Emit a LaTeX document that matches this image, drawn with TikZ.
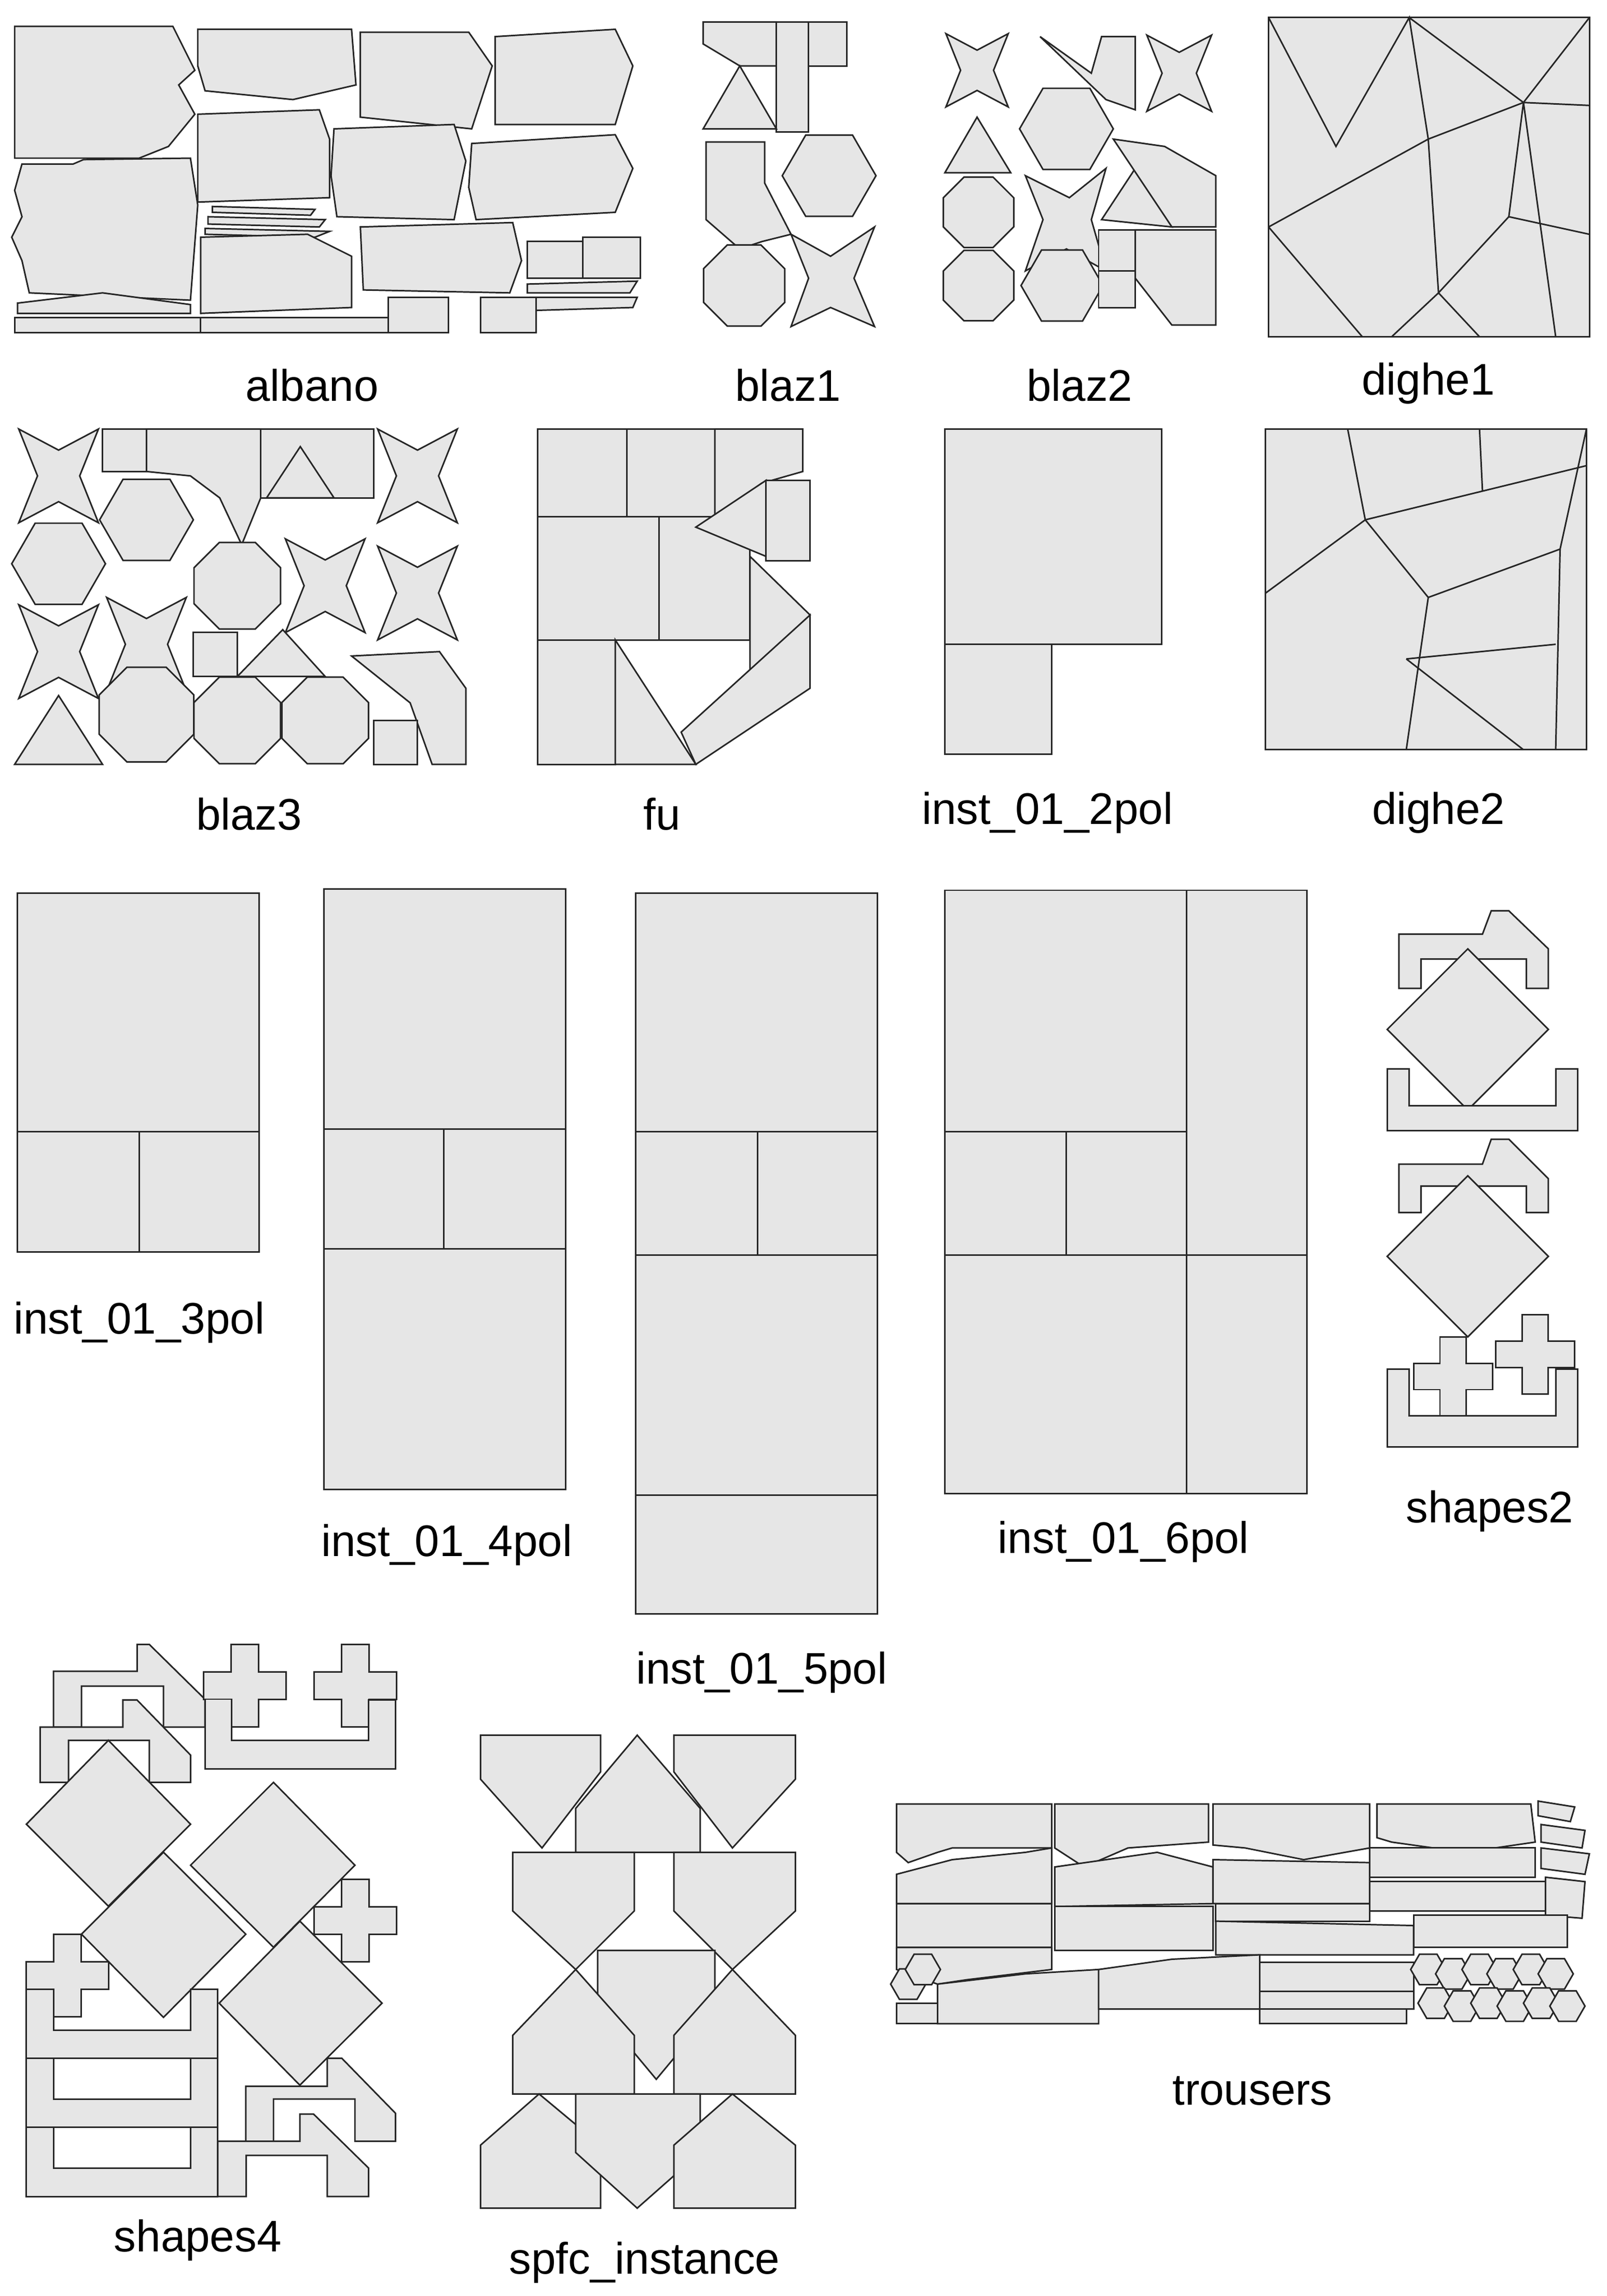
\documentclass[tikz,border=0pt]{standalone}
\usepackage{fontspec}
\setmainfont{Liberation Sans}
\usetikzlibrary{shapes.geometric}
\definecolor{pfill}{HTML}{E6E6E6}
\tikzset{pc/.style={fill=pfill,draw=black!85,line width=3pt,line join=miter},
ln/.style={draw=black!85,line width=3pt},
lab/.style={font=\fontsize{86}{90}\selectfont,inner sep=0pt}}
\newcommand\rpoly[5]{\node[pc,regular polygon,regular polygon sides=#1,minimum size=#4cm,inner sep=0pt] (#5) at (#2,#3) {};}
\newcommand\xstar[3]{\draw[pc,shift={(#1,#2)},scale=#3] (-0.85,-1)--(0,-0.55)--(0.85,-1)--(0.45,0)--(0.85,1)--(0,0.55)--(-0.85,1)--(-0.45,0)--cycle;}
\newcommand\xcross[3]{\draw[pc,shift={(#1,#2)},scale=#3] (-1,-3)--(1,-3)--(1,-1)--(3,-1)--(3,1)--(1,1)--(1,3)--(-1,3)--(-1,1)--(-3,1)--(-3,-1)--(-1,-1)--cycle;}
\newcommand\xdiam[3]{\draw[pc] (#1-#3,#2)--(#1,#2-#3)--(#1+#3,#2)--(#1,#2+#3)--cycle;}
\newcommand\xrect[4]{\draw[pc] (#1,#2) rectangle (#3,#4);}
\begin{document}
\begin{tikzpicture}[x=0.1cm,y=-0.1cm]
\useasboundingbox (0,0) rectangle (1097,1568);
% ---------- albano
\draw[pc] (10,18)--(118,18)--(133,48)--(122,58)--(133,78)--(115,100)--(95,108)--(10,108)--cycle;
\draw[pc] (135,20)--(240,20)--(243,58)--(200,68)--(140,62)--(135,45)--cycle;
\draw[pc] (246,22)--(320,22)--(336,45)--(322,88)--(246,80)--cycle;
\draw[pc] (338,25)--(420,20)--(432,45)--(420,85)--(338,85)--cycle;
\draw[pc] (57,109)--(130,108)--(135,140)--(130,205)--(20,200)--(15,178)--(8,162)--(15,148)--(10,130)--(15,112)--(50,112)--cycle;
\draw[pc] (135,78)--(218,75)--(225,95)--(225,135)--(135,138)--cycle;
\draw[pc] (228,88)--(310,85)--(318,110)--(310,150)--(230,148)--(226,120)--cycle;
\draw[pc] (322,98)--(420,92)--(432,115)--(420,145)--(325,150)--(320,128)--cycle;
\draw[pc] (145,141)--(215,143)--(212,147)--(145,145)--cycle;
\draw[pc] (142,148)--(222,150)--(218,155)--(142,153)--cycle;
\draw[pc] (140,156)--(225,158)--(215,162)--(140,160)--cycle;
\draw[pc] (137,162)--(210,160)--(240,175)--(240,210)--(137,214)--cycle;
\draw[pc] (246,155)--(350,152)--(356,178)--(348,200)--(248,198)--cycle;
\xrect{360}{165}{398}{190}\xrect{398}{162}{437}{190}
\draw[pc] (360,194)--(435,192)--(430,200)--(360,200)--cycle;
\draw[pc] (362,203)--(435,203)--(432,210)--(365,212)--cycle;
\draw[pc] (12,207)--(70,200)--(130,208)--(130,214)--(12,214)--cycle;
\xrect{10}{217}{137}{227}\xrect{137}{217}{265}{227}
\xrect{265}{203}{306}{227}\xrect{328}{203}{366}{227}
\node[lab] (l1) at (213,263) {albano};
% ---------- blaz1
\draw[pc] (480,15)--(530,15)--(530,45)--(505,45)--(480,30)--cycle;
\draw[pc] (530,15)--(552,15)--(552,90)--(530,90)--cycle;
\xrect{552}{15}{578}{45}
\draw[pc] (480,88)--(505,45)--(530,88)--cycle;
\rpoly{6}{566}{120}{6.4}{b1h}
\draw[pc] (482,97)--(522,97)--(522,125)--(540,160)--(520,165)--(505,170)--(482,150)--cycle;
\rpoly{8}{508}{195}{6}{b1o}
\draw[pc] (540,160)--(567,175)--(597,155)--(583,190)--(597,223)--(567,210)--(540,223)--(552,190)--cycle;
\node[lab] (l2) at (538,263) {blaz1};
% ---------- blaz2
\xstar{667}{48}{25}
\draw[pc] (645,118)--(667,80)--(690,118)--cycle;
\rpoly{8}{668}{145}{5.2}{b2o1}
\rpoly{8}{668}{195}{5.2}{b2o2}
\draw[pc] (710,25)--(745,50)--(752,25)--(775,25)--(775,75)--(755,68)--cycle;
\xstar{805}{50}{26}
\rpoly{6}{728}{88}{6.4}{b2h1}
\draw[pc] (700,120)--(730,135)--(755,115)--(745,150)--(755,185)--(728,170)--(700,185)--(712,150)--cycle;
\draw[pc] (752,150)--(775,115)--(800,155)--cycle;
\draw[pc] (760,95)--(795,100)--(830,120)--(830,155)--(800,155)--cycle;
\rpoly{6}{725}{195}{5.6}{b2h2}
\xrect{750}{157}{775}{185}\xrect{750}{185}{775}{210}
\draw[pc] (775,157)--(830,157)--(830,222)--(800,222)--(775,190)--cycle;
\node[lab] (l3) at (737,263) {blaz2};
% ---------- dighe1
\draw[pc] (866,12) rectangle (1085,230);
\draw[ln] (866,12)--(912,100)--(962,12)--(975,95)--(1040,70)--(962,12);
\draw[ln] (1040,70)--(1085,12);
\draw[ln] (1040,70)--(1085,72);
\draw[ln] (1040,70)--(1030,148)--(1085,160);
\draw[ln] (866,155)--(975,95);
\draw[ln] (975,95)--(982,200)--(1030,148);
\draw[ln] (866,155)--(930,230);
\draw[ln] (982,200)--(950,230);
\draw[ln] (982,200)--(1010,230);
\draw[ln] (1040,70)--(1062,230);
\node[lab] (l4) at (975,262) {dighe1};
% ---------- blaz3
\xstar{40}{325}{32}
\rpoly{6}{40}{385}{6.4}{b3h1}
\xstar{40}{445}{32}
\draw[pc] (10,522)--(40,475)--(70,522)--cycle;
\xrect{70}{293}{100}{322}
\rpoly{6}{100}{355}{6.4}{b3h2}
\xstar{100}{440}{32}
\rpoly{8}{100}{488}{7}{b3o1}
\draw[pc] (100,293)--(178,293)--(178,340)--(165,372)--(150,340)--(130,325)--(100,322)--cycle;
\xrect{178}{293}{255}{340}
\draw[pc] (182,340)--(205,305)--(228,340)--cycle;
\xstar{285}{325}{32}
\rpoly{8}{162}{400}{6.4}{b3o2}
\xstar{222}{400}{32}
\xstar{285}{405}{32}
\xrect{132}{432}{162}{462}
\draw[pc] (162,462)--(193,430)--(222,462)--cycle;
\rpoly{8}{162}{492}{6.4}{b3o3}
\rpoly{8}{222}{492}{6.4}{b3o4}
\draw[pc] (240,448)--(300,445)--(318,470)--(318,522)--(295,522)--(280,480)--(255,460)--cycle;
\xrect{255}{492}{285}{522}
\node[lab] (l5) at (170,556) {blaz3};
% ---------- fu
\xrect{367}{293}{428}{353}\xrect{428}{293}{488}{353}
\draw[pc] (488,293)--(548,293)--(548,322)--(520,330)--(488,353)--cycle;
\xrect{367}{353}{450}{437}\xrect{450}{353}{512}{437}
\draw[pc] (475,360)--(523,328)--(523,380)--cycle;
\xrect{523}{328}{553}{383}
\draw[pc] (512,380)--(553,420)--(512,460)--cycle;
\xrect{367}{437}{420}{522}
\draw[pc] (420,437)--(475,522)--(420,522)--cycle;
\draw[pc] (465,500)--(553,420)--(553,470)--(475,522)--cycle;
\node[lab] (l6) at (452,556) {fu};
% ---------- inst_01_2pol
\xrect{645}{293}{793}{440}\xrect{645}{440}{718}{515}
\node[lab] (l7) at (715,555) {inst\_01\_2pol};
% ---------- dighe2
\draw[pc] (864,293) rectangle (1083,512);
\draw[ln] (920,293)--(932,355)--(1083,318);
\draw[ln] (1010,293)--(1012,335);
\draw[ln] (864,405)--(932,355)--(975,408)--(960,512);
\draw[ln] (975,408)--(1065,375)--(1083,293);
\draw[ln] (1065,375)--(1062,512);
\draw[ln] (960,450)--(1062,440);
\draw[ln] (960,450)--(1040,512);
\node[lab] (l8) at (982,555) {dighe2};
% ---------- inst pols
\xrect{12}{610}{177}{773}\xrect{12}{773}{95}{855}\xrect{95}{773}{177}{855}
\node[lab] (l9) at (95,903) {inst\_01\_3pol};
\xrect{221}{607}{386}{771}\xrect{221}{771}{303}{853}\xrect{303}{771}{386}{853}\xrect{221}{853}{386}{1017}
\node[lab] (l10) at (305,1055) {inst\_01\_4pol};
\xrect{434}{610}{599}{773}\xrect{434}{773}{517}{857}\xrect{517}{773}{599}{857}\xrect{434}{857}{599}{1021}\xrect{434}{1021}{599}{1102}
\node[lab] (l11) at (520,1142) {inst\_01\_5pol};
\xrect{645}{608}{810}{773}\xrect{810}{608}{892}{857}\xrect{645}{773}{728}{857}\xrect{728}{773}{810}{857}\xrect{645}{857}{810}{1020}\xrect{810}{857}{892}{1020}
\node[lab] (l12) at (767,1053) {inst\_01\_6pol};
% ---------- shapes2
\draw[pc] (955,638)--(1012,638)--(1018,622)--(1030,622)--(1057,648)--(1057,675)--(1042,675)--(1042,655)--(970,655)--(970,675)--(955,675)--cycle;
\xdiam{1002}{703}{55}
\draw[pc] (947,730)--(962,730)--(962,755)--(1062,755)--(1062,730)--(1077,730)--(1077,772)--(947,772)--cycle;
\draw[pc] (955,795)--(1012,795)--(1018,778)--(1030,778)--(1057,805)--(1057,828)--(1042,828)--(1042,810)--(970,810)--(970,828)--(955,828)--cycle;
\xdiam{1002}{858}{55}
\draw[pc] (947,935)--(962,935)--(962,967)--(1062,967)--(1062,935)--(1077,935)--(1077,988)--(947,988)--cycle;
\xcross{992}{940}{9}
\xcross{1048}{925}{9}
\node[lab] (l13) at (1017,1032) {shapes2};
% ---------- shapes4
\draw[pc] (36.5,1141.3)--(93.6,1141.3)--(93.6,1123)--(101.9,1123)--(139.9,1160.4)--(139.9,1179.5)--(111.6,1179.5)--(111.6,1151.5)--(55.6,1151.5)--(55.6,1179.5)--(36.5,1179.5)--cycle;
\draw[pc] (27.4,1179.5)--(83.9,1179.5)--(83.9,1161)--(93.6,1161)--(130.1,1198.6)--(130.1,1217.2)--(101.9,1217.2)--(101.9,1188.5)--(46.8,1188.5)--(46.8,1217.2)--(27.4,1217.2)--cycle;
\xcross{167.2}{1151.3}{9.4}
\xcross{242.6}{1151.3}{9.4}
\draw[pc] (139.9,1160.4)--(158,1160.4)--(158,1188.5)--(251.6,1188.5)--(251.6,1161)--(270,1161)--(270,1208.1)--(139.9,1208.1)--cycle;
\draw[pc] (18,1245.8)--(74,1188.5)--(130.1,1245.8)--(74,1301.8)--cycle;
\draw[pc] (130.1,1273.8)--(186.7,1217.2)--(242.3,1273.8)--(186.7,1329.8)--cycle;
\xcross{242.6}{1311.7}{9.4}
\draw[pc] (55.6,1320.9)--(111.6,1264.9)--(167.8,1320.9)--(111.6,1377.7)--cycle;
\draw[pc] (149.6,1368)--(204.7,1312)--(260.8,1368)--(204.7,1424)--cycle;
\xcross{46.1}{1349.2}{9.4}
\draw[pc] (18,1358.6)--(36.5,1358.6)--(36.5,1386.4)--(130.1,1386.4)--(130.1,1358.6)--(148.7,1358.6)--(148.7,1405.7)--(18,1405.7)--cycle;
\draw[pc] (18,1405.7)--(36.5,1405.7)--(36.5,1433.5)--(130.1,1433.5)--(130.1,1405.7)--(148.7,1405.7)--(148.7,1452.8)--(18,1452.8)--cycle;
\draw[pc] (18,1452.8)--(36.5,1452.8)--(36.5,1480.6)--(130.1,1480.6)--(130.1,1452.8)--(148.7,1452.8)--(148.7,1500)--(18,1500)--cycle;
\draw[pc] (167.8,1424.8)--(223.4,1424.8)--(223.4,1405.7)--(233.4,1405.7)--(270,1443.2)--(270,1462.3)--(242.3,1462.3)--(242.3,1433.5)--(186.7,1433.5)--(186.7,1462.3)--(167.8,1462.3)--cycle;
\draw[pc] (148.7,1462.3)--(204.7,1462.3)--(204.7,1443.7)--(214,1443.7)--(251.6,1480.6)--(251.6,1500)--(223.4,1500)--(223.4,1472)--(168.1,1472)--(168.1,1500)--(148.7,1500)--cycle;
\node[lab] (l14) at (135,1530) {shapes4};
% ---------- spfc_instance
\draw[pc] (328,1185)--(410,1185)--(410,1210)--(370,1262)--(328,1215)--cycle;
\draw[pc] (393,1265)--(393,1235)--(435,1185)--(478,1235)--(478,1265)--cycle;
\draw[pc] (460,1185)--(543,1185)--(543,1215)--(500,1262)--(460,1210)--cycle;
\draw[pc] (350,1265)--(433,1265)--(433,1305)--(393,1345)--(350,1305)--cycle;
\draw[pc] (460,1265)--(543,1265)--(543,1305)--(500,1345)--(460,1305)--cycle;
\draw[pc] (408,1332)--(488,1332)--(488,1372)--(448,1420)--(408,1372)--cycle;
\draw[pc] (350,1390)--(393,1345)--(433,1390)--(433,1430)--(350,1430)--cycle;
\draw[pc] (460,1390)--(500,1345)--(543,1390)--(543,1430)--(460,1430)--cycle;
\draw[pc] (328,1508)--(328,1465)--(368,1430)--(410,1465)--(410,1508)--cycle;
\draw[pc] (393,1430)--(478,1430)--(478,1470)--(435,1508)--(393,1470)--cycle;
\draw[pc] (460,1508)--(460,1465)--(500,1430)--(543,1465)--(543,1508)--cycle;
\node[lab] (l15) at (440,1545) {spfc\_instance};
% ---------- trousers
\draw[pc] (612,1232)--(718,1232)--(718,1262)--(650,1262)--(640,1265)--(620,1272)--(612,1265)--cycle;
\draw[pc] (720,1232)--(825,1232)--(825,1258)--(770,1262)--(740,1275)--(720,1262)--cycle;
\draw[pc] (828,1232)--(935,1232)--(935,1262)--(890,1270)--(850,1262)--(828,1260)--cycle;
\draw[pc] (940,1232)--(1045,1232)--(1048,1258)--(1000,1265)--(950,1258)--(940,1255)--cycle;
\draw[pc] (1050,1230)--(1075,1234)--(1072,1244)--(1050,1240)--cycle;
\draw[pc] (1052,1246)--(1082,1250)--(1080,1262)--(1052,1258)--cycle;
\draw[pc] (612,1280)--(650,1270)--(700,1265)--(718,1262)--(718,1300)--(612,1300)--cycle;
\draw[pc] (720,1275)--(790,1265)--(828,1275)--(828,1300)--(720,1302)--cycle;
\draw[pc] (828,1270)--(935,1272)--(935,1300)--(828,1300)--cycle;
\draw[pc] (935,1262)--(1048,1262)--(1048,1282)--(935,1282)--cycle;
\draw[pc] (1052,1262)--(1085,1266)--(1082,1280)--(1052,1276)--cycle;
\draw[pc] (612,1300) rectangle (718,1330);
\draw[pc] (720,1302) rectangle (828,1332);
\draw[pc] (830,1300) rectangle (935,1312);
\draw[pc] (935,1285) rectangle (1055,1305);
\draw[pc] (1055,1282)--(1082,1285)--(1080,1310)--(1055,1308)--cycle;
\draw[pc] (612,1330)--(718,1330)--(718,1345)--(660,1352)--(640,1355)--(612,1345)--cycle;
\draw[pc] (830,1312)--(965,1315)--(965,1335)--(830,1335)--cycle;
\draw[pc] (965,1308)--(1070,1308)--(1070,1330)--(965,1330)--cycle;
\draw[pc] (640,1355)--(700,1348)--(750,1345)--(750,1382)--(640,1382)--cycle;
\draw[pc] (750,1345)--(800,1338)--(860,1335)--(860,1372)--(750,1372)--cycle;
\draw[pc] (860,1340)--(965,1340)--(965,1360)--(860,1360)--cycle;
\draw[pc] (860,1360) rectangle (965,1372);
\draw[pc] (860,1372) rectangle (960,1382);
\draw[pc] (612,1368) rectangle (640,1382);
\foreach \cx/\cy [count=\k] in {975/1345,992/1348,1010/1345,1027/1348,1045/1345,1062/1348,980/1368,998/1370,1016/1368,1034/1370,1052/1368,1070/1370,620/1355,630/1345}
  {\node[pc,regular polygon,regular polygon sides=6,minimum width=1.7cm,minimum height=2.4cm,inner sep=0pt] (t\k) at (\cx,\cy) {};}
\node[lab] (l16) at (855,1428) {trousers};
\end{tikzpicture}
\end{document}
